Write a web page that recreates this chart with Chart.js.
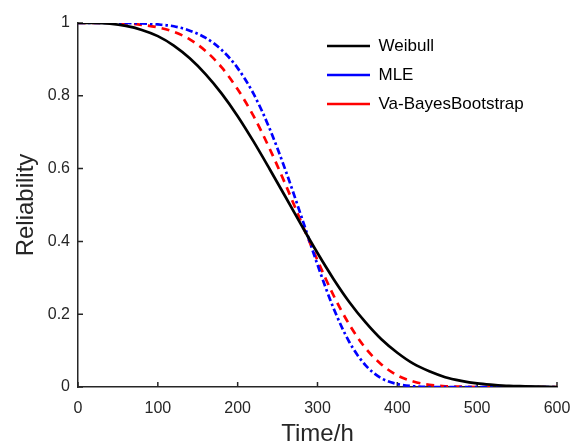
<!DOCTYPE html>
<html>
<head>
<meta charset="utf-8">
<script src="https://cdn.jsdelivr.net/npm/chart.js@4"></script>
<style>
  body { margin: 0; background: #fff; }
</style>
</head>
<body>
<canvas id="myChart" width="574" height="446"></canvas>
<script>
// values
const times = [0, 20, 40, 60, 80, 100, 120, 140, 160, 180, 200, 220, 240, 260, 280, 300,
  320, 340, 360, 380, 400, 420, 440, 460, 480, 500, 520, 540, 560, 580, 600];
const weibull = [1, 1.0, 0.998, 0.992, 0.981, 0.964, 0.938, 0.903, 0.859, 0.806, 0.744, 0.674, 0.599, 0.522, 0.444, 0.368,
  0.297, 0.233, 0.178, 0.131, 0.094, 0.064, 0.043, 0.027, 0.017, 0.01, 0.006, 0.003, 0.002, 0.001, 0.0];
const mle = [1, 1.0, 1.0, 1.0, 0.999, 0.996, 0.991, 0.979, 0.959, 0.926, 0.876, 0.805, 0.71, 0.595, 0.467, 0.336,
  0.217, 0.123, 0.06, 0.024, 0.008, 0.002, 0.0, 0.0, 0.0, 0.0, 0.0, 0.0, 0.0, 0.0, 0.0];
const vaBayes = [1, 1.0, 1.0, 0.999, 0.995, 0.988, 0.976, 0.955, 0.923, 0.878, 0.818, 0.744, 0.655, 0.556, 0.451, 0.348,
  0.252, 0.171, 0.107, 0.062, 0.032, 0.015, 0.006, 0.002, 0.001, 0.0, 0.0, 0.0, 0.0, 0.0, 0.0];

const seriesNames = ["Weibull", "MLE", "Va-BayesBootstrap"];
const xTicks = [0, 100, 200, 300, 400, 500, 600];
const yTicks = [0, 0.2, 0.4, 0.6, 0.8, 1];
const yTickLabels = ["0", "0.2", "0.4", "0.6", "0.8", "1"];

const FONT = "'Liberation Sans', Arial, Helvetica, sans-serif";
const AXIS = "#262626";

const toPoints = (ys) => ys.map((y, i) => ({ x: times[i], y: y }));

// matlab style ticks pointing into the plot
const inwardTicks = {
  id: "inwardTicks",
  beforeDatasetsDraw(chart) {
    const { ctx, chartArea } = chart;
    const xs = chart.scales.x;
    const ys = chart.scales.y;
    ctx.save();
    ctx.strokeStyle = AXIS;
    ctx.lineWidth = 1.5;
    ctx.beginPath();
    xs.ticks.forEach((t, i) => {
      const px = xs.getPixelForTick(i);
      ctx.moveTo(px, chartArea.bottom);
      ctx.lineTo(px, chartArea.bottom - 5);
    });
    ys.ticks.forEach((t, i) => {
      const py = ys.getPixelForTick(i);
      ctx.moveTo(chartArea.left, py);
      ctx.lineTo(chartArea.left + 5, py);
    });
    ctx.stroke();
    ctx.restore();
  },
};

// put the legend box where it sits in the picture
const legendSpot = {
  id: "legendSpot",
  afterLayout(chart) {
    const lg = chart.legend;
    if (!lg) return;
    const w = lg.width, h = lg.height;
    lg.left = 315;
    lg.top = 25.5;
    lg.right = lg.left + w;
    lg.bottom = lg.top + h;
  },
};

const data = {
  datasets: [
    {
      label: seriesNames[0],
      data: toPoints(weibull),
      borderColor: "#000000",
      borderWidth: 2.7,
    },
    {
      label: seriesNames[1],
      data: toPoints(mle),
      borderColor: "#0000ff",
      borderWidth: 2.7,
      borderDash: [7, 3, 2.5, 3],
    },
    {
      label: seriesNames[2],
      data: toPoints(vaBayes),
      borderColor: "#ff0000",
      borderWidth: 2.7,
      borderDash: [8, 6],
    },
  ],
};

const options = {
  responsive: false,
  animation: false,
  devicePixelRatio: 1,
  layout: { padding: { left: 0, right: 17, top: 23, bottom: 0 } },
  elements: {
    point: { radius: 0 },
    line: { cubicInterpolationMode: "monotone", fill: false },
  },
  scales: {
    x: {
      type: "linear",
      min: 0,
      max: 600,
      afterBuildTicks: (s) => { s.ticks = xTicks.map((v) => ({ value: v })); },
      afterFit: (s) => { s.height = 59; s.paddingLeft = 0; s.paddingRight = 0; },
      ticks: {
        color: AXIS,
        padding: 12,
        maxRotation: 0,
        font: { family: FONT, size: 16 },
      },
      grid: { display: true, drawOnChartArea: false, drawTicks: false },
      border: { display: true, color: AXIS, width: 1.5 },
      title: {
        display: true,
        text: "Time/h",
        color: AXIS,
        padding: { top: 0, bottom: 0 },
        font: { family: FONT, size: 24, lineHeight: 1 },
      },
    },
    y: {
      type: "linear",
      min: 0,
      max: 1,
      afterBuildTicks: (s) => { s.ticks = yTicks.map((v) => ({ value: v })); },
      afterFit: (s) => { s.width = 78; s.paddingTop = 0; s.paddingBottom = 0; },
      ticks: {
        color: AXIS,
        padding: 8,
        font: { family: FONT, size: 16 },
        callback: (v, i) => yTickLabels[i],
      },
      grid: { display: true, drawOnChartArea: false, drawTicks: false },
      border: { display: true, color: AXIS, width: 1.5 },
      title: {
        display: true,
        text: "Reliability",
        color: AXIS,
        padding: { top: 14, bottom: 0 },
        font: { family: FONT, size: 24, lineHeight: 1 },
      },
    },
  },
  plugins: {
    tooltip: { enabled: false },
    legend: {
      display: true,
      position: "chartArea",
      align: "start",
      labels: {
        usePointStyle: true,
        pointStyle: "line",
        pointStyleWidth: 43,
        padding: 12,
        color: "#000000",
        font: { family: FONT, size: 17 },
      },
    },
  },
};

const ctx = document.getElementById("myChart").getContext("2d");
new Chart(ctx, {
  type: "line",
  data: data,
  options: options,
  plugins: [inwardTicks, legendSpot],
});
</script>
</body>
</html>
